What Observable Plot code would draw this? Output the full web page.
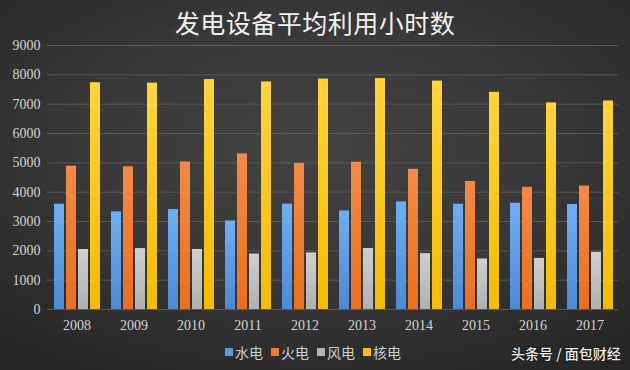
<!DOCTYPE html>
<html>
<head>
<meta charset="utf-8">
<script src="https://cdn.jsdelivr.net/npm/d3@7"></script>
<script src="https://cdn.jsdelivr.net/npm/@observablehq/plot@0.6"></script>
<style>
  html, body { margin: 0; padding: 0; background: #2a2a2a; }
  #chart {
    position: relative; width: 630px; height: 370px; overflow: hidden;
    background: radial-gradient(ellipse 75% 70% at 50% 40%, #434343 0%, #383838 50%, #262626 100%);
    font-family: "Noto Sans CJK SC", "Noto Sans", sans-serif;
  }
  #chart svg { position: absolute; left: 0; top: 0; }
  #title {
    position: absolute; left: 0; top: 4px; width: 630px; text-align: center;
    color: #f2f2f2; font-size: 25px; line-height: 36px; letter-spacing: 0.5px;
  }
  #legend {
    position: absolute; left: 0; top: 342px; width: 630px; height: 20px;
    display: flex; justify-content: center; gap: 8px; padding-right: 4px; box-sizing: border-box;
    color: #cfcfcf; font-size: 14px; line-height: 20px;
  }
  #legend span.item { display: inline-flex; align-items: center; }
  #legend span.sw { display: inline-block; width: 8px; height: 8px; margin-right: 2px; }
  #credit {
    position: absolute; left: 511px; top: 342px; color: #eeeeee; font-size: 14px;
    line-height: 22px; font-weight: 500; text-shadow: 0 0 2px #000;
  }
</style>
</head>
<body>
<div id="chart">
  <div id="title">发电设备平均利用小时数</div>
  <div id="legend"></div>
  <div id="credit">头条号 / 面包财经</div>
</div>
<script>
const years = ["2008","2009","2010","2011","2012","2013","2014","2015","2016","2017"];
const seriesNames = ["水电","火电","风电","核电"];
const hydro   = [3589, 3328, 3404, 3019, 3591, 3359, 3669, 3590, 3621, 3579];
const thermal = [4885, 4865, 5031, 5305, 4982, 5021, 4778, 4364, 4165, 4209];
const wind    = [2046, 2077, 2047, 1890, 1929, 2080, 1905, 1724, 1742, 1948];
const nuclear = [7731, 7716, 7840, 7759, 7855, 7874, 7787, 7403, 7042, 7108];
const yTicks  = [0, 1000, 2000, 3000, 4000, 5000, 6000, 7000, 8000, 9000];

const colors = ["#5b9bd5", "#ed7d31", "#b4b4b4", "#ffc000"];
const gradTop = ["#6cb0f2", "#f58a45", "#cfcfcf", "#ffd43a"];
const gradBot = ["#4a8ad6", "#e8701e", "#b0b0b0", "#f5bb00"];

const seriesValues = [hydro, thermal, wind, nuclear];
const data = years.flatMap((yr, i) =>
  seriesNames.map((s, j) => ({year: yr, series: s, value: seriesValues[j][i]}))
);

const W = 630, H = 370;
const margins = {marginTop: 45, marginBottom: 61, marginLeft: 47, marginRight: 12};

// gradient defs mark
function defs() {
  const ns = "http://www.w3.org/2000/svg";
  const d = document.createElementNS(ns, "defs");
  seriesNames.forEach((s, j) => {
    const g = document.createElementNS(ns, "linearGradient");
    g.setAttribute("id", "grad" + j);
    g.setAttribute("x1", "0"); g.setAttribute("y1", "0");
    g.setAttribute("x2", "0"); g.setAttribute("y2", "1");
    const s1 = document.createElementNS(ns, "stop");
    s1.setAttribute("offset", "0%"); s1.setAttribute("stop-color", gradTop[j]);
    const s2 = document.createElementNS(ns, "stop");
    s2.setAttribute("offset", "100%"); s2.setAttribute("stop-color", gradBot[j]);
    g.appendChild(s1); g.appendChild(s2);
    d.appendChild(g);
  });
  return d;
}

// background layer: grid + y axis
const back = Plot.plot({
  width: W, height: H, ...margins,
  style: {background: "transparent", color: "#d4d4d4", fontFamily: "'Liberation Serif', 'DejaVu Serif', serif", fontSize: "14px"},
  y: {domain: [0, 9000], ticks: yTicks, tickSize: 0, tickPadding: 7, label: null, tickFormat: d => String(d)},
  marks: [
    Plot.ruleY(yTicks, {stroke: "#585858", strokeWidth: 1})
  ]
});

// foreground layer: bars + year axis
const front = Plot.plot({
  width: W, height: H, ...margins,
  style: {background: "transparent", color: "#d4d4d4", fontFamily: "'Liberation Serif', 'DejaVu Serif', serif", fontSize: "14px"},
  fx: {domain: years, padding: 0.074, label: null, axis: "bottom", tickSize: 0, tickPadding: 11},
  x: {domain: seriesNames, padding: 0.2, axis: null},
  y: {domain: [0, 9000], axis: null},
  marks: [
    defs,
    ...seriesNames.map((s, j) =>
      Plot.barY(data.filter(d => d.series === s), {
        fx: "year", x: "series", y: "value",
        fill: `url(#grad${j})`
      })
    )
  ]
});

const chart = document.getElementById("chart");
chart.insertBefore(back, chart.firstChild);
chart.insertBefore(front, back.nextSibling);

const legend = document.getElementById("legend");
seriesNames.forEach((s, j) => {
  const item = document.createElement("span");
  item.className = "item";
  const sw = document.createElement("span");
  sw.className = "sw";
  sw.style.background = colors[j];
  item.appendChild(sw);
  item.appendChild(document.createTextNode(s));
  legend.appendChild(item);
});
</script>
</body>
</html>
